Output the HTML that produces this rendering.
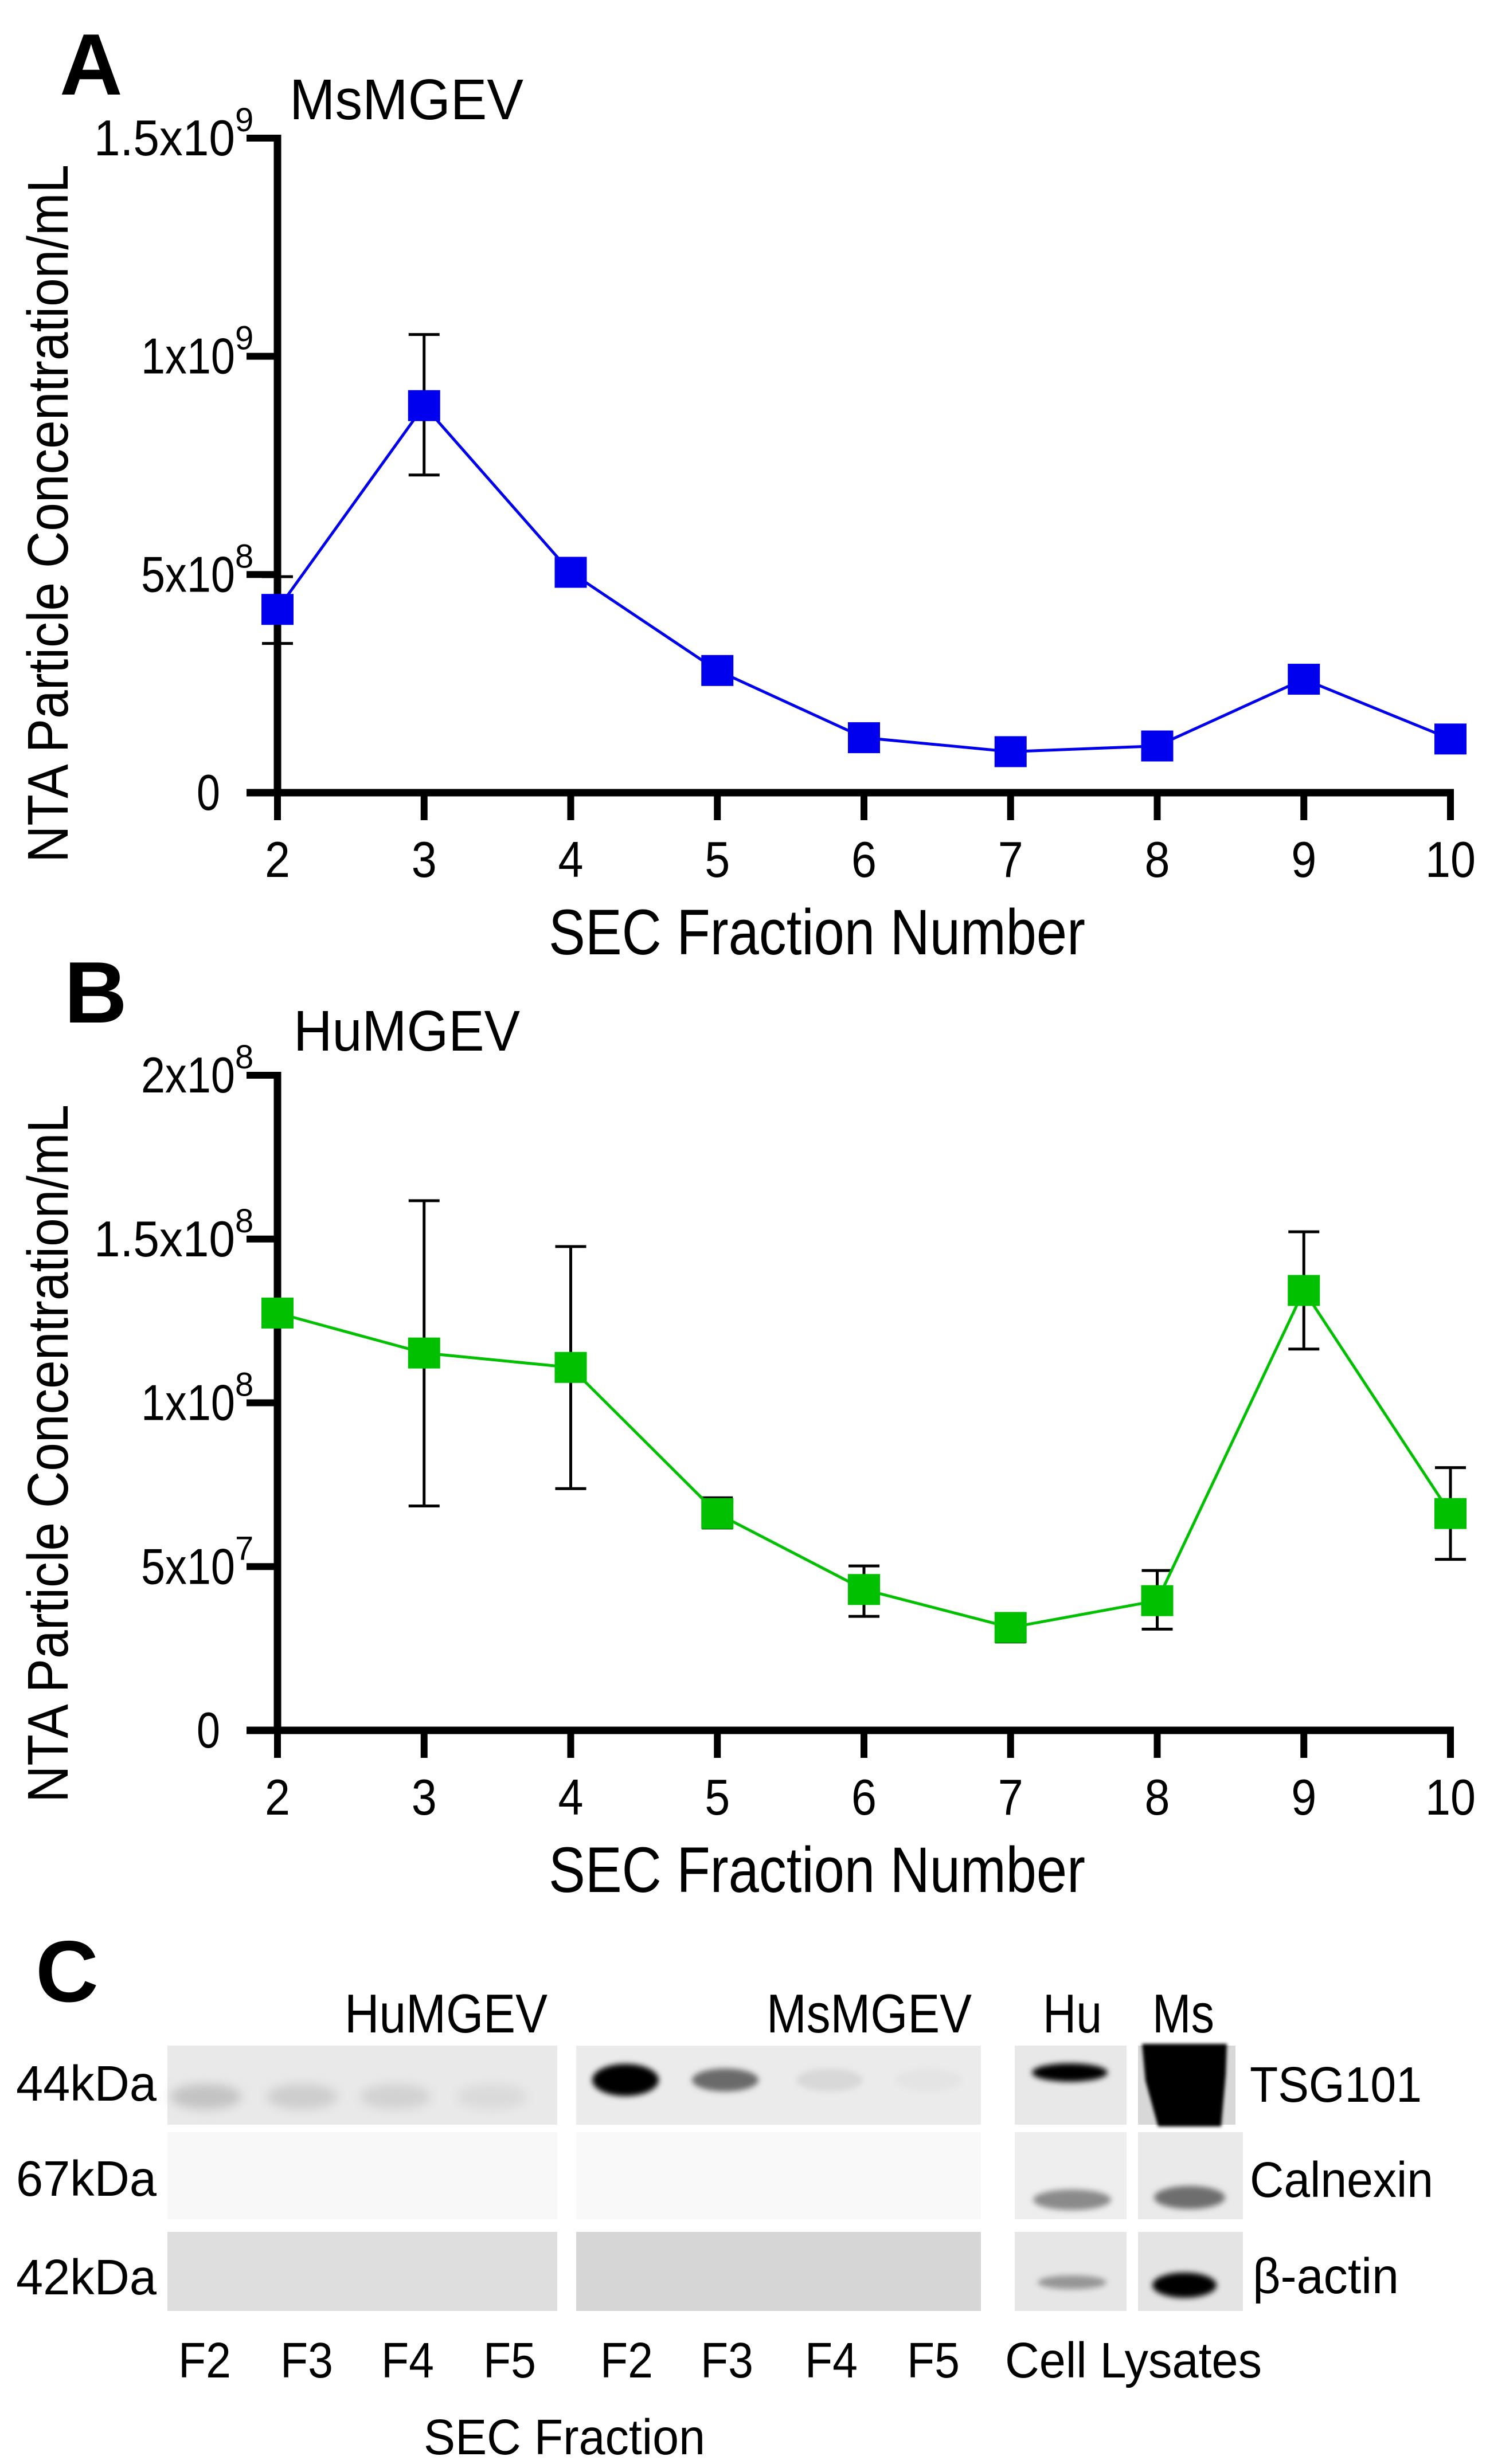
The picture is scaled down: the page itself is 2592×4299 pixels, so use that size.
<!DOCTYPE html>
<html><head><meta charset="utf-8"><style>
html,body{margin:0;padding:0;background:#fff;}
svg{display:block;}
text{font-family:"Liberation Sans",sans-serif;fill:#000;}
</style></head><body>
<svg id="fig" width="2592" height="4299" viewBox="0 0 2592 4299" xmlns="http://www.w3.org/2000/svg">
<defs>
<filter id="blur6" x="-50%" y="-100%" width="200%" height="300%"><feGaussianBlur stdDeviation="9"/></filter>
<filter id="blur3" x="-50%" y="-100%" width="200%" height="300%"><feGaussianBlur stdDeviation="5"/></filter>
<filter id="blur2" x="-20%" y="-20%" width="140%" height="140%"><feGaussianBlur stdDeviation="3"/></filter>
</defs>
<text x="104" y="165" font-size="152" font-weight="bold">A</text>
<text x="112" y="1784" font-size="152" font-weight="bold">B</text>
<text x="62" y="3492" font-size="152" font-weight="bold">C</text>
<g id="chartA"></g>
<g id="chartB"></g>
<g id="blot">
  <text x="955" y="3546" font-size="96" text-anchor="end" textLength="354" lengthAdjust="spacingAndGlyphs">HuMGEV</text>
  <text x="1695" y="3546" font-size="96" text-anchor="end" textLength="358" lengthAdjust="spacingAndGlyphs">MsMGEV</text>
  <text x="1819" y="3546" font-size="96" textLength="103" lengthAdjust="spacingAndGlyphs">Hu</text>
  <text x="2010" y="3546" font-size="96" textLength="108" lengthAdjust="spacingAndGlyphs">Ms</text>
  <text x="28" y="3665" font-size="87" textLength="245" lengthAdjust="spacingAndGlyphs">44kDa</text>
  <text x="28" y="3831" font-size="87" textLength="245" lengthAdjust="spacingAndGlyphs">67kDa</text>
  <text x="28" y="4003" font-size="87" textLength="245" lengthAdjust="spacingAndGlyphs">42kDa</text>
  <text x="2180" y="3667" font-size="87" textLength="300" lengthAdjust="spacingAndGlyphs">TSG101</text>
  <text x="2180" y="3833" font-size="87" textLength="320" lengthAdjust="spacingAndGlyphs">Calnexin</text>
  <text x="2185" y="4001" font-size="87" textLength="255" lengthAdjust="spacingAndGlyphs">β-actin</text>
  <text x="1753" y="4148" font-size="87" textLength="448" lengthAdjust="spacingAndGlyphs">Cell Lysates</text>
  <text x="739" y="4282" font-size="87" textLength="491" lengthAdjust="spacingAndGlyphs">SEC Fraction</text>
  <g id="flabels"></g>
  <rect x="292" y="3569" width="680" height="138" fill="#e9e9e9"/>
  <rect x="292" y="3720" width="680" height="152" fill="#f8f8f8"/>
  <rect x="292" y="3894" width="680" height="138" fill="#dedede"/>
  <rect x="1005" y="3569" width="706" height="138" fill="#ebebeb"/>
  <rect x="1005" y="3720" width="706" height="152" fill="#f9f9f9"/>
  <rect x="1005" y="3894" width="706" height="138" fill="#d6d6d6"/>
  <rect x="1770" y="3569" width="195" height="138" fill="#e8e8e8"/>
  <rect x="1770" y="3720" width="195" height="152" fill="#eeeeee"/>
  <rect x="1770" y="3894" width="195" height="138" fill="#e6e6e6"/>
  <rect x="1985" y="3569" width="170" height="138" fill="#d8d8d8"/>
  <rect x="1985" y="3720" width="183" height="152" fill="#eaeaea"/>
  <rect x="1985" y="3894" width="183" height="138" fill="#e4e4e4"/>
  <g id="bands"></g>
  <path d="M1992 3566 L2140 3566 L2138 3620 L2130 3710 L2020 3710 L1998 3630 Z" fill="#000" filter="url(#blur2)"/>
</g>
<script>
// ---- Chart A data (MsMGEV) ----
var fractions = [2, 3, 4, 5, 6, 7, 8, 9, 10];
var msMeans = [4.2e8, 8.87e8, 5.05e8, 2.8e8, 1.26e8, 0.94e8, 1.07e8, 2.6e8, 1.23e8];
var msLower = [3.42e8, 7.28e8, null, null, null, null, null, null, null];
var msUpper = [4.95e8, 1.05e9, null, null, null, null, null, null, null];
var msTicks = [0, 5e8, 1e9, 1.5e9];
var msTickBase = ["0", "5x10", "1x10", "1.5x10"];
var msTickExp = ["", "8", "9", "9"];
// ---- Chart B data (HuMGEV) ----
var huMeans = [1.274e8, 1.152e8, 1.108e8, 0.662e8, 0.43e8, 0.314e8, 0.396e8, 1.343e8, 0.662e8];
var huLower = [1.235e8, 0.685e8, 0.738e8, 0.618e8, 0.348e8, 0.27e8, 0.309e8, 1.164e8, 0.522e8];
var huUpper = [1.315e8, 1.617e8, 1.477e8, 0.71e8, 0.502e8, 0.357e8, 0.488e8, 1.522e8, 0.802e8];
var huTicks = [0, 5e7, 1e8, 1.5e8, 2e8];
var huTickBase = ["0", "5x10", "1x10", "1.5x10", "2x10"];
var huTickExp = ["", "7", "8", "8", "8"];
// ---- Blot data ----
var fLabels = ["F2", "F3", "F4", "F5", "F2", "F3", "F4", "F5"];
var huTsgIntensity = [0.16, 0.12, 0.10, 0.07];
var msTsgIntensity = [1.0, 0.55, 0.08, 0.03];

var NS = "http://www.w3.org/2000/svg";
function mk(tag, attrs, parent) {
  var e = document.createElementNS(NS, tag);
  for (var k in attrs) e.setAttribute(k, attrs[k]);
  parent.appendChild(e);
  return e;
}

function drawChart(g, cfg) {
  var x0 = 484, step = 255.75;
  function xs(f) { return x0 + (f - 2) * step; }
  function ys(v) { return cfg.yZero - v / cfg.yMax * (cfg.yZero - cfg.yTop); }
  var t = mk("text", {x: cfg.labelX, y: cfg.labelY, "font-size": 100, textLength: cfg.labelLen, lengthAdjust: "spacingAndGlyphs"}, g);
  t.textContent = cfg.label;
  
  
  var yt = mk("text", {x: 0, y: 0, "font-size": 100, transform: "translate(118," + cfg.yTitleStart + ") rotate(-90)", textLength: 1218, lengthAdjust: "spacingAndGlyphs"}, g);
  yt.textContent = "NTA Particle Concentration/mL";
  
  
  var xt = mk("text", {x: 957, y: cfg.yZero + 282, "font-size": 112, textLength: 936, lengthAdjust: "spacingAndGlyphs"}, g);
  xt.textContent = "SEC Fraction Number";
  
  
  var ya = mk("line", {x1: x0, y1: cfg.yTop - 6, x2: x0, y2: cfg.yZero + 6, stroke: "#000", "stroke-width": 13}, g);
  
  
  var xa = mk("line", {x1: 430, y1: cfg.yZero, x2: xs(10) + 6, y2: cfg.yZero, stroke: "#000", "stroke-width": 13}, g);
  
  
  for (var i = 0; i < cfg.ticks.length; i++) {
    var y = ys(cfg.ticks[i]);
    var tk = mk("line", {x1: 430, y1: y, x2: x0, y2: y, stroke: "#000", "stroke-width": 12}, g);
    
    
    var lbl = mk("text", {x: cfg.tickExp[i] ? 410 : 384, y: y + 30, "font-size": 88, "text-anchor": "end"}, g);
    
    
    var w = cfg.tickBase[i].length * 41;
    lbl.setAttribute("textLength", w);
    lbl.setAttribute("lengthAdjust", "spacingAndGlyphs");
    lbl.textContent = cfg.tickBase[i];
    if (cfg.tickExp[i]) {
      var sup = mk("text", {x: 410, y: y - 12, "font-size": 58}, g);
      sup.textContent = cfg.tickExp[i];
      
      
    }
  }
  for (var j = 0; j < fractions.length; j++) {
    var x = xs(fractions[j]);
    var xtk = mk("line", {x1: x, y1: cfg.yZero, x2: x, y2: cfg.yZero + 48, stroke: "#000", "stroke-width": 12}, g);
    
    
    var xl = mk("text", {x: x, y: cfg.yZero + 147, "font-size": 88, "text-anchor": "middle"}, g);
    xl.textContent = String(fractions[j]);
    xl.setAttribute("textLength", String(fractions[j]).length * 44);
    xl.setAttribute("lengthAdjust", "spacingAndGlyphs");
    
    
  }
  for (var k = 0; k < fractions.length; k++) {
    var xe = xs(fractions[k]);
    if (cfg.upper[k] != null) {
      var eb = mk("g", {}, g);
      
      
      mk("line", {x1: xe, y1: ys(cfg.upper[k]), x2: xe, y2: ys(cfg.lower[k]), stroke: "#000", "stroke-width": 5}, eb);
      mk("line", {x1: xe - 27, y1: ys(cfg.upper[k]), x2: xe + 27, y2: ys(cfg.upper[k]), stroke: "#000", "stroke-width": 5}, eb);
      mk("line", {x1: xe - 27, y1: ys(cfg.lower[k]), x2: xe + 27, y2: ys(cfg.lower[k]), stroke: "#000", "stroke-width": 5}, eb);
    }
  }
  var pts = fractions.map(function (f, i) { return xs(f) + "," + ys(cfg.means[i]); }).join(" ");
  var pl = mk("polyline", {points: pts, fill: "none", stroke: cfg.color, "stroke-width": 5}, g);
  
  
  for (var m = 0; m < fractions.length; m++) {
    var r = mk("rect", {x: xs(fractions[m]) - 28, y: ys(cfg.means[m]) - 27, width: 56, height: 54, fill: cfg.color}, g);
    
    
  }
}

drawChart(document.getElementById("chartA"), {
  yTop: 241, yZero: 1383, yMax: 1.5e9, color: "#0000ee",
  means: msMeans, lower: msLower, upper: msUpper,
  ticks: msTicks, tickBase: msTickBase, tickExp: msTickExp,
  label: "MsMGEV", labelX: 505, labelY: 208, labelLen: 408, yTitleStart: 1505
});
drawChart(document.getElementById("chartB"), {
  yTop: 1876, yZero: 3019, yMax: 2e8, color: "#00c000",
  means: huMeans, lower: huLower, upper: huUpper,
  ticks: huTicks, tickBase: huTickBase, tickExp: huTickExp,
  label: "HuMGEV", labelX: 512, labelY: 1833, labelLen: 395, yTitleStart: 3145
});

var fl = document.getElementById("flabels");
var fCenters = [357, 535, 711, 889, 1093, 1268, 1450, 1628];
for (var i = 0; i < fLabels.length; i++) {
  var t = mk("text", {x: fCenters[i], y: 4148, "font-size": 87, "text-anchor": "middle", textLength: 92, lengthAdjust: "spacingAndGlyphs"}, fl);
  t.textContent = fLabels[i];
  
  
}
var bands = document.getElementById("bands");
var huC = [359, 527, 690, 858];
for (var a = 0; a < huTsgIntensity.length; a++) {
  var v = Math.round(235 - huTsgIntensity[a] * 250);
  var b = mk("ellipse", {cx: huC[a], cy: 3658, rx: 62, ry: 22, fill: "rgb(" + v + "," + v + "," + v + ")", filter: "url(#blur6)"}, bands);
  
  
}
var msC = [1091, 1265, 1447, 1620];
for (var c = 0; c < msTsgIntensity.length; c++) {
  var v2 = Math.round(235 - msTsgIntensity[c] * 235);
  var b2 = mk("ellipse", {cx: msC[c], cy: 3629, rx: 58, ry: c === 0 ? 28 : 20, fill: "rgb(" + v2 + "," + v2 + "," + v2 + ")", filter: "url(#blur3)"}, bands);
  
  
}
var lys = [
  {cx: 1866, cy: 3616, rx: 66, ry: 16, col: "#050505", n: "hu-lysate-tsg101-band"},
  {cx: 1870, cy: 3838, rx: 68, ry: 18, col: "#8a8a8a", n: "hu-lysate-calnexin-band"},
  {cx: 2075, cy: 3834, rx: 62, ry: 20, col: "#6e6e6e", n: "ms-lysate-calnexin-band"},
  {cx: 1870, cy: 3982, rx: 60, ry: 12, col: "#959595", n: "hu-lysate-actin-band"},
  {cx: 2066, cy: 3987, rx: 56, ry: 22, col: "#000000", n: "ms-lysate-actin-band"}
];
for (var d = 0; d < lys.length; d++) {
  var e = mk("ellipse", {cx: lys[d].cx, cy: lys[d].cy, rx: lys[d].rx, ry: lys[d].ry, fill: lys[d].col, filter: "url(#blur3)"}, bands);
  
  
}
</script>
</svg>
</body></html>
